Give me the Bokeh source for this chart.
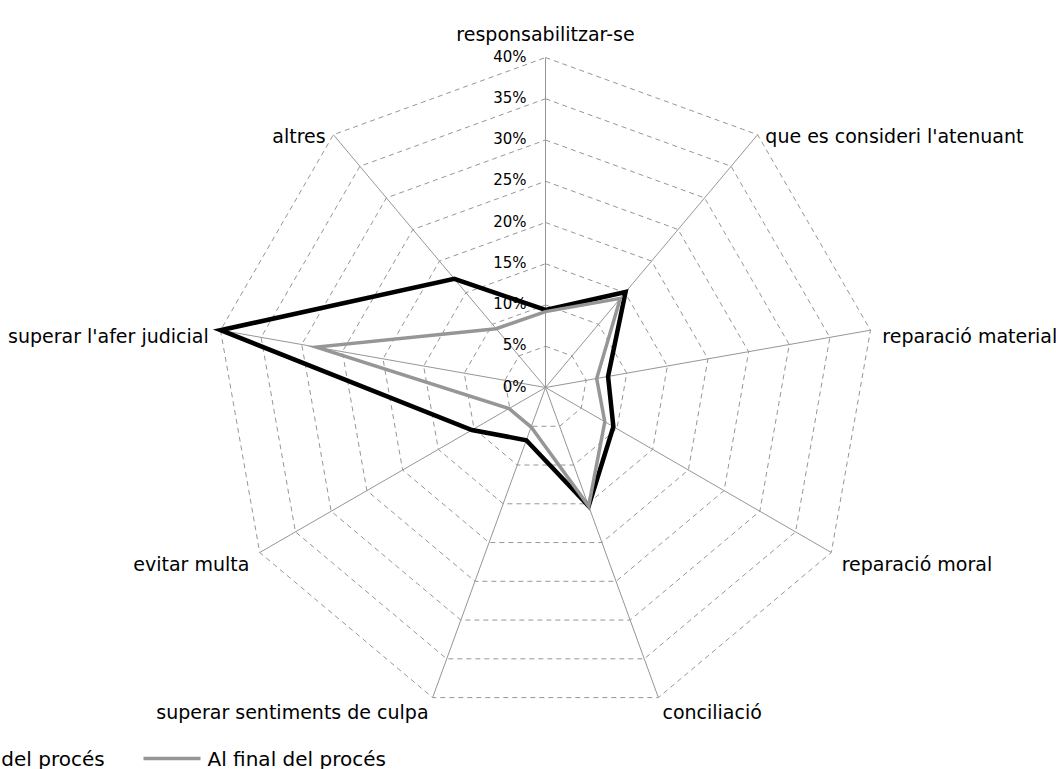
import numpy as np
from bokeh.plotting import figure
from bokeh.models import Range1d
from bokeh.core.properties import value
from bokeh.embed import file_html
from bokeh.resources import INLINE

categories = [
    "responsabilitzar-se",
    "que es consideri l'atenuant",
    "reparació material",
    "reparació moral",
    "conciliació",
    "superar sentiments de culpa",
    "evitar multa",
    "superar l'afer judicial",
    "altres",
]
inici = [9.4, 15.1, 7.7, 9.5, 15.3, 6.8, 10.3, 40.0, 17.2]
final = [9.2, 14.1, 6.3, 8.3, 15.3, 5.1, 5.1, 28.2, 9.3]
tick_values = [0, 5, 10, 15, 20, 25, 30, 35, 40]
tick_labels = ["0%", "5%", "10%", "15%", "20%", "25%", "30%", "35%", "40%"]
series_names = ["A l'inici del procés", "Al final del procés"]

FONT = "DejaVu Sans"
GRID = "#969696"
GRAY = "#969696"

W, H = 1056, 769
CX, CY = 545, 387          # centre of the radar inside the frame (px)
RMAX = tick_values[-1]
S = 330.0 / RMAX           # px per percent

p = figure(width=W, height=H, output_backend="svg", toolbar_location=None,
           x_range=Range1d(-CX / S, (W - CX) / S),
           y_range=Range1d(-(H - CY) / S, CY / S),
           min_border=0, x_axis_location=None, y_axis_location=None)
p.outline_line_color = None
p.background_fill_color = "white"
p.border_fill_color = "white"
p.xgrid.grid_line_color = None
p.ygrid.grid_line_color = None

n = len(categories)
theta = np.arange(n) * 2 * np.pi / n
sx, cy = np.sin(theta), np.cos(theta)

# dashed rings
ring_xs, ring_ys = [], []
for t in tick_values[1:]:
    ring_xs.append(list(np.append(t * sx, t * sx[0])))
    ring_ys.append(list(np.append(t * cy, t * cy[0])))
p.multi_line(ring_xs, ring_ys, line_color=GRID, line_width=1, line_dash="5 4")

# spokes
p.segment(x0=np.zeros(n), y0=np.zeros(n), x1=RMAX * sx, y1=RMAX * cy,
          line_color=GRID, line_width=1)

# series
def closed(vals):
    v = np.array(vals)
    return np.append(v * sx, v[0] * sx[0]), np.append(v * cy, v[0] * cy[0])

bx, by = closed(inici)
p.line(bx, by, line_color="black", line_width=4.5, line_join="miter")
gx, gy = closed(final)
p.line(gx, gy, line_color=GRAY, line_width=3.5, line_join="miter")

# tick labels
p.text(x=[0] * len(tick_values), y=tick_values, text=tick_labels,
       x_offset=-19, y_offset=-1, text_align="right", text_baseline="middle",
       text_font=value(FONT), text_font_size="15px", text_color="black")

# category labels
for i, lab in enumerate(categories):
    vx, vy = RMAX * sx[i], RMAX * cy[i]
    if abs(sx[i]) < 0.01:
        align, xo, yo = "center", 0, -24
    else:
        align = "left" if sx[i] > 0 else "right"
        xo = 12 * sx[i]
        yo = 7.5 - 7.5 * cy[i]
    p.text(x=[vx], y=[vy], text=[lab], x_offset=xo, y_offset=yo,
           text_align=align, text_baseline="alphabetic",
           text_font=value(FONT), text_font_size="19px", text_color="black")

# legend (positioned in page pixels, converted to data units)
def px2x(px):
    return (px - CX) / S

def py2y(py):
    return (CY - py) / S

LEG_Y = 758
leg_colors = ["black", GRAY]
leg_widths = [4.5, 3.5]
leg_line_x0 = [-140, 143]
text_x = [-77, 207]
for k in range(2):
    p.segment(x0=[px2x(leg_line_x0[k])], y0=[py2y(LEG_Y)],
              x1=[px2x(leg_line_x0[k] + 57)], y1=[py2y(LEG_Y)],
              line_color=leg_colors[k], line_width=leg_widths[k])
    p.text(x=[px2x(text_x[k])], y=[py2y(LEG_Y)], text=[series_names[k]],
           text_align="left", text_baseline="middle",
           text_font=value(FONT), text_font_size="20px", text_color="black")

open("out.html", "w").write(file_html(p, INLINE))
